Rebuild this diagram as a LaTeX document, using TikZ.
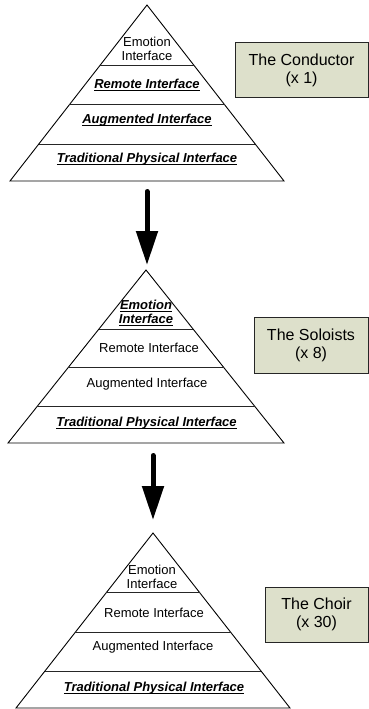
\documentclass[tikz,border=0pt]{standalone}
\usepackage{fontspec}
\setmainfont{Liberation Sans}
\usetikzlibrary{arrows.meta,calc}
\definecolor{rolefill}{RGB}{221,224,203}
\tikzset{
  outline/.style={draw=black, line width=0.9pt, line join=miter},
  tier/.style={draw=black!85, line width=0.9pt},
  lbl/.style={font=\fontsize{13}{14.5}\selectfont, align=center, inner sep=0pt},
  role/.style={draw=black!85, line width=0.9pt, fill=rolefill,
    font=\fontsize{16}{18}\selectfont, align=center, inner sep=0pt},
  flow/.style={line width=5pt, line cap=round, -{Triangle[width=21pt,length=34pt]}},
}
\newsavebox{\bubox}
\newcommand{\bu}[1]{\sbox{\bubox}{\textbf{\textit{#1}}}\rlap{\rule[-2.3pt]{\wd\bubox}{1pt}}\usebox{\bubox}}
\newcommand{\drawpyr}[4]{%
  % #1 name, #2 apex, #3 base left, #4 base right
  \coordinate (#1apex) at #2;
  \coordinate (#1bl) at #3;
  \coordinate (#1br) at #4;
  \draw[outline] (#1apex) -- (#1bl) -- (#1br) -- cycle;
  \draw[tier] ($(#1apex)!0.342!(#1bl)$) -- ($(#1apex)!0.342!(#1br)$);
  \draw[tier] ($(#1apex)!0.566!(#1bl)$) -- ($(#1apex)!0.566!(#1br)$);
  \draw[tier] ($(#1apex)!0.790!(#1bl)$) -- ($(#1apex)!0.790!(#1br)$);
}
\begin{document}
\begin{tikzpicture}[x=1pt,y=-1pt]
  \useasboundingbox (0,0) rectangle (369,709);

  % Pyramid 1: The Conductor
  \drawpyr{p1}{(147,5)}{(10,181)}{(284,181)}
  \node[lbl] (p1e) at (147,49) {Emotion\\Interface};
  \node[lbl] (p1r) at (147,85) {\bu{Remote Interface}};
  \node[lbl] (p1a) at (147,120) {\bu{Augmented Interface}};
  \node[lbl] (p1t) at (147,159) {\bu{Traditional Physical Interface}};
  \node[role, minimum width=133pt, minimum height=55pt] (b1) at (301.5,70) {The Conductor\\(x 1)};

  % Arrow 1
  \coordinate (a1s) at (147,191.5);
  \coordinate (a1e) at (147,265);
  \draw[flow] (a1s) -- (a1e);

  % Pyramid 2: The Soloists
  \drawpyr{p2}{(146,270)}{(8,443)}{(284,443)}
  \node[lbl] (p2e) at (146,313) {\bu{Emotion}\\\bu{Interface}};
  \node[lbl] (p2r) at (149,348) {Remote Interface};
  \node[lbl] (p2a) at (147,384) {Augmented Interface};
  \node[lbl] (p2t) at (146.5,423) {\bu{Traditional Physical Interface}};
  \node[role, minimum width=114pt, minimum height=56pt] (b2) at (311,345) {The Soloists\\(x 8)};

  % Arrow 2
  \coordinate (a2s) at (153,455.5);
  \coordinate (a2e) at (153,520);
  \draw[flow] (a2s) -- (a2e);

  % Pyramid 3: The Choir
  \drawpyr{p3}{(153,533)}{(16,708)}{(290,708)}
  \node[lbl] (p3e) at (152,577) {Emotion\\Interface};
  \node[lbl] (p3r) at (154,613) {Remote Interface};
  \node[lbl] (p3a) at (153,647) {Augmented Interface};
  \node[lbl] (p3t) at (154,688) {\bu{Traditional Physical Interface}};
  \node[role, minimum width=103pt, minimum height=55pt] (b3) at (316.5,614.5) {The Choir\\(x 30)};
\end{tikzpicture}
\end{document}
